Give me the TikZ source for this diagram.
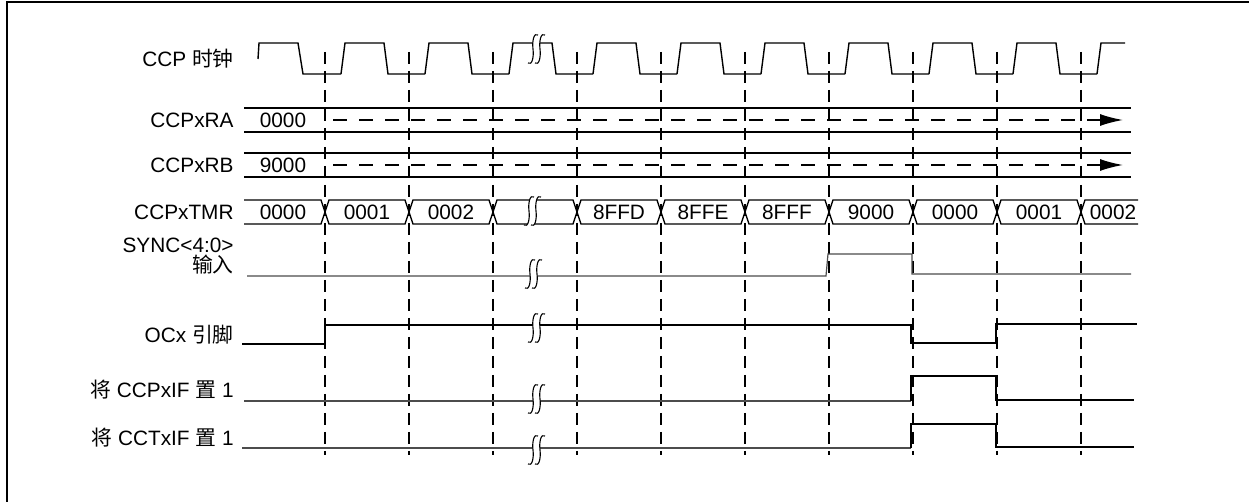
\documentclass[tikz,border=0pt]{standalone}
\usepackage{fontspec}
\setmainfont{Liberation Sans}
\newfontfamily\cjk{Noto Sans CJK SC}
\usetikzlibrary{arrows.meta}

% break mark: two integral-like strokes over a white gap
\newcommand{\brk}[2]{%
  \fill[white] (#1+5,#2-14) .. controls (#1+1,#2-17) and (#1-1,#2-8) .. (#1,#2)
    .. controls (#1+1,#2+8) and (#1-1,#2+17) .. (#1-5,#2+14) -- (#1+2,#2+14)
    .. controls (#1+6,#2+17) and (#1+8,#2+8) .. (#1+7,#2)
    .. controls (#1+6,#2-8) and (#1+8,#2-17) .. (#1+12,#2-14) -- cycle;
  \draw[line width=0.55pt] (#1+5,#2-14) .. controls (#1+1,#2-17) and (#1-1,#2-8) .. (#1,#2)
    .. controls (#1+1,#2+8) and (#1-1,#2+17) .. (#1-5,#2+14);
  \draw[line width=0.55pt] (#1+12,#2-14) .. controls (#1+8,#2-17) and (#1+6,#2-8) .. (#1+7,#2)
    .. controls (#1+8,#2+8) and (#1+6,#2+17) .. (#1+2,#2+14);}

\begin{document}
\begin{tikzpicture}[x=0.5pt,y=-0.5pt,
    sig/.style={line width=0.7pt},
    lowsig/.style={line width=0.6pt,black!70},
    vdash/.style={line width=1pt,dash pattern=on 6pt off 3.5pt},
    lbl/.style={anchor=east,inner sep=0pt,font=\fontsize{10.4}{8.5}\selectfont},
    val/.style={inner sep=0pt,font=\fontsize{10.4}{12}\selectfont}]
    \useasboundingbox (0,0) rectangle (1249,502);
    \draw[line width=1pt] (7,502) -- (7,2) -- (1249,2);

    % labels
    \node[lbl] (clk) at (234,59) {CCP {\cjk 时钟}};
    \node[lbl] (ra) at (234,120) {CCPxRA};
    \node[lbl] (rb) at (234,165) {CCPxRB};
    \node[lbl] (tmr) at (234,212) {CCPxTMR};
    \node[lbl,align=right] (sync) at (234,256) {SYNC<4:0>\\{\cjk 输入}};
    \node[lbl] (oc) at (234,335) {OCx {\cjk 引脚}};
    \node[lbl] (ccpif) at (234,390) {{\cjk 将} CCPxIF {\cjk 置} 1};
    \node[lbl] (cctif) at (234,438) {{\cjk 将} CCTxIF {\cjk 置} 1};

    \foreach \x in {325,409,...,1081}
        \draw[vdash] (\x,52) -- (\x,455);

    % clock
    \draw[sig] (258,59) -- (259,43) -- (298,43) -- (303,74) -- (341,74);
    \foreach \r in {341,425,...,1013}
        \draw[sig] (\r,74) -- (\r+4,43) -- (\r+43,43) -- (\r+47,74) -- (\r+84,74);
    \draw[sig] (1097,74) -- (1101,43) -- (1125,43);

    % period registers
    \draw[sig] (244,108) -- (1131,108) (244,132) -- (1131,132);
    \node[val] (ra0) at (283,120) {0000};
    \draw[line width=0.8pt,dash pattern=on 7pt off 6pt] (333,120) -- (1090,120);
    \draw[sig,-{Latex[length=11.5pt,width=6pt]}] (1090,120) -- (1123,120);
    \draw[sig] (244,153) -- (1131,153) (244,177) -- (1131,177);
    \node[val] (rb0) at (283,165) {9000};
    \draw[line width=0.8pt,dash pattern=on 7pt off 6pt] (333,165) -- (1090,165);
    \draw[sig,-{Latex[length=11.5pt,width=6pt]}] (1090,165) -- (1123,165);

    % timer
    \draw[sig] (244,200) -- (321,200) -- (325,212) -- (321,224) -- (244,224);
    \node[val] (t0) at (283,212) {0000};
    \foreach \v [count=\i] in {0001,0002,{},8FFD,8FFE,8FFF,9000,0000,0001} {
        \pgfmathsetmacro\a{241+84*\i}
        \draw[sig] (\a,212) -- (\a+4,200) -- (\a+80,200) -- (\a+84,212)
            -- (\a+80,224) -- (\a+4,224) -- cycle;
        \node[val] (t\i) at (\a+42,212) {\v};
    }
    \draw[sig] (1138,200) -- (1085,200) -- (1081,212) -- (1085,224) -- (1138,224);
    \node[val] (t10) at (1113,212) {0002};

    % sync input
    \draw[lowsig] (247,276) -- (826,276) -- (828,254) -- (912,254) -- (912,274) -- (1131,274);

    % output pin
    \draw[sig] (242,344) -- (325,344) -- (325,325) -- (911,325) -- (911,343)
        -- (996,343) -- (996,324) -- (1137,324);

    % interrupt flags
    \draw[lowsig] (244,401) -- (911,401);
    \draw[sig] (911,401) -- (911,376) -- (996,376) -- (996,400) -- (1134,400);
    \draw[lowsig] (242,448) -- (911,448);
    \draw[sig] (911,448) -- (911,424) -- (996,424) -- (996,447) -- (1134,447);

    % breaks
    \brk{533}{49}
    \brk{529}{211}
    \brk{530}{274}
    \brk{533}{328}
    \brk{533}{399}
    \brk{533}{450}
\end{tikzpicture}
\end{document}
